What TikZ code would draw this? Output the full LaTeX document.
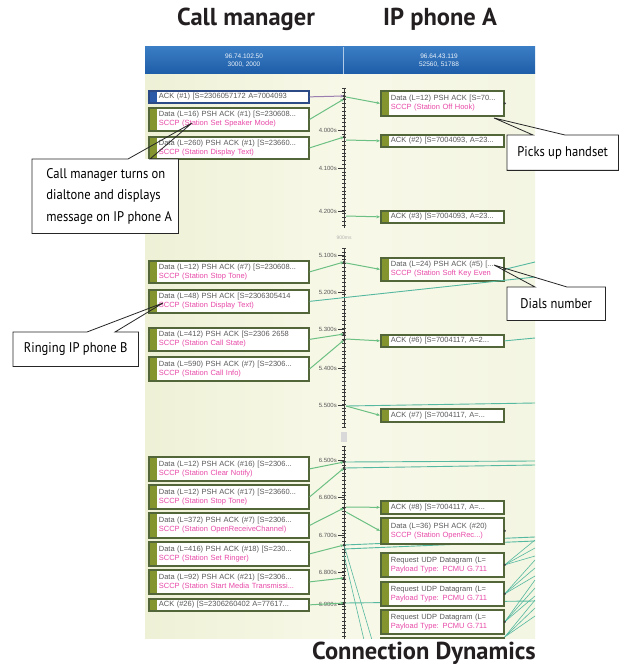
\documentclass[tikz,border=0pt]{standalone}
\usepackage{fontspec}
\setmainfont{Liberation Sans}
\newfontfamily\titlefont{PT Sans}
\newfontfamily\callfont[FakeStretch=0.9]{PT Sans}
\usetikzlibrary{arrows.meta,calc}
\definecolor{boxc}{HTML}{53663A}
\definecolor{boxin}{HTML}{A7BC82}
\definecolor{stripc}{HTML}{84942F}
\definecolor{selc}{HTML}{2B4A86}
\definecolor{selstrip}{HTML}{2B5BA8}
\definecolor{sccp}{HTML}{E84AA8}
\definecolor{boxtext}{HTML}{5A5A5A}
\definecolor{connc}{HTML}{6CC083}
\definecolor{tealc}{HTML}{55B8A0}
\definecolor{axisc}{HTML}{3A3A3A}
\definecolor{hdrtop}{HTML}{3A7DC4}
\definecolor{hdrbot}{HTML}{1E5DA8}
\definecolor{bgL}{HTML}{EEF1D6}
\definecolor{bgM}{HTML}{F8F8E8}
\definecolor{bgR}{HTML}{F3F6E2}
\definecolor{titlec}{HTML}{231F20}
\definecolor{mauve}{HTML}{9B7FB0}
\newcommand{\bxfont}{\fontsize{7.5}{9}\selectfont}
\newcommand{\twol}[2]{\hspace*{4pt}\mbox{#1}\\\hspace*{4pt}\mbox{\textcolor{sccp}{#2}}}
\newcommand{\onel}[1]{\hspace*{4pt}\mbox{#1}}
\begin{document}
\begin{tikzpicture}[x=1pt,y=-1pt,
  num/.style={path picture={\fill[stripc] (path picture bounding box.north west) rectangle ([xshift=8pt]path picture bounding box.south west);
     \node[font=\fontsize{4}{4}\selectfont, text=white, inner sep=0pt] at ([xshift=4pt]path picture bounding box.west) {#1};}},
  selnum/.style={path picture={\fill[selstrip] (path picture bounding box.north west) rectangle ([xshift=8pt]path picture bounding box.south west);
     \node[font=\fontsize{4}{4}\selectfont, text=white, inner sep=0pt] at ([xshift=4pt]path picture bounding box.west) {#1};}},
  lbox/.style={draw=boxc, line width=1.7pt, fill=white, anchor=north west, inner xsep=6pt, inner ysep=0pt,
     minimum width=160pt, text width=148pt, align=left, font=\bxfont, text=boxtext},
  rbox/.style={lbox, minimum width=123pt, text width=111pt},
  conn/.style={draw=connc, line width=1pt, -{Stealth[length=3.5pt,width=3pt]}},
  tline/.style={draw=tealc, line width=0.9pt},
  tlab/.style={anchor=east, font=\fontsize{6}{6}\selectfont, text=black!65, inner sep=1pt},
  hdr/.style={font=\fontsize{6.5}{7.5}\selectfont, text=white!90!hdrtop, align=center},
  title/.style={font=\titlefont\bfseries\fontsize{24.5}{26}\selectfont, text=titlec},
  callout/.style={fill=white, anchor=north west, font=\callfont\fontsize{14}{21.5}\selectfont, align=left, inner sep=0pt},
  cline/.style={draw=black!85, line width=0.8pt}
]
\useasboundingbox[fill=white] (0,0) rectangle (637,671);

% titles
\node[title] (t1) at (246,19) {Call manager};
\node[title] (t2) at (440,19) {IP phone A};
\node[title] (t3) at (424,653) {Connection Dynamics};

\begin{scope}
\clip (145,47) rectangle (535,638);
% background
\shade[left color=bgL, right color=bgM] (145,74) rectangle (344,638);
\shade[left color=bgM, right color=bgR] (344,74) rectangle (535,638);
% header
\shade[top color=hdrtop, bottom color=hdrbot] (145,47) rectangle (535,74);
\draw[white!60!hdrtop, line width=0.8pt] (343.5,47) -- (343.5,74);
\node[hdr] (h1) at (244,60.5) {96.74.102.50\\3000, 2000};
\node[hdr] (h2) at (439,60.5) {96.64.43.119\\52560, 51788};

% axis
\foreach \ya/\yb in {88/228, 248/428, 446/640}{
  \draw[axisc, line width=0.8pt] (344,\ya) -- (344,\yb);
  \draw[axisc, line width=3.2pt, dash pattern=on 0.7pt off 3.1pt] (344,\ya) -- (344,\yb);
}
\node[font=\fontsize{5}{5}\selectfont, text=black!30] (br1) at (344,238) {900ms};
\fill[black!15] (341,432) rectangle (347,442);

% time labels
\foreach \n/\yy/\t in {1/130/4.000s, 2/168/4.100s, 3/211/4.200s, 4/255/5.100s, 5/292/5.200s, 6/329/5.300s,
   7/368/5.400s, 8/405/5.500s, 9/460/6.500s, 10/497/6.600s, 11/535/6.700s, 12/572/6.800s, 13/604/6.900s}{
  \node[tlab] (tl\n) at (338,\yy) {\t};
  \draw[axisc, line width=0.5pt] (tl\n.east) -- (344,\yy);
}

% axis coordinates
\coordinate (a1) at (344,96);   \coordinate (a2) at (344,99);  \coordinate (a3) at (344,137);
\coordinate (a4) at (344,262);  \coordinate (a6) at (344,334);  \coordinate (a7) at (344,340);
\coordinate (a8) at (344,462);  \coordinate (a9) at (344,468);  \coordinate (a10) at (344,508);
\coordinate (a11) at (344,545); \coordinate (a12) at (344,578); \coordinate (a13) at (344,603);
\coordinate (b1) at (346,97);   \coordinate (b2) at (346,140);  \coordinate (b3) at (346,216);
\coordinate (b4) at (346,263);  \coordinate (b5) at (346,339);  \coordinate (b6) at (346,406);
\coordinate (b7) at (346,507);  \coordinate (b8) at (346,512);
\coordinate (e1) at (535,262);  \coordinate (e2) at (535,277);  \coordinate (e3) at (535,338);
\coordinate (e4) at (535,403);  \coordinate (e5) at (535,461);  \coordinate (e6) at (535,465);
\coordinate (e7) at (535,537);  \coordinate (e8) at (535,541);  \coordinate (e9) at (535,601);

% long lines first (under the boxes)
\draw[tline] (b6) -- (e4);
\draw[tline] (a8) -- (e5);
\draw[tline] (a9) -- (e6);
\draw[tline] (a11) -- (e7);
\draw[tline] ([yshift=-4pt]a11) -- (e8);
\draw[tline] (a13) -- (e9);
\draw[tline, line width=0.6pt] (a11) -- (372,640);
\draw[tline, line width=0.6pt] ([yshift=-10pt]a11) -- (364,640);

% left boxes
\node[lbox, draw=selc, selnum=1, minimum height=12pt] (L1) at (148,90) {\onel{ACK (\#1) [S=2306057172 A=7004093}};
\node[lbox, num=2, minimum height=23pt] (L2) at (148,107) {\twol{Data (L=16) PSH ACK (\#1) [S=230608...}{SCCP (Station Set Speaker Mode)}};
\node[lbox, num=3, minimum height=22pt] (L3) at (148,136) {\twol{Data (L=260) PSH ACK (\#1) [S=23660...}{SCCP (Station Display Text)}};
\node[lbox, num=4, minimum height=22pt] (L4) at (148,260) {\twol{Data (L=12) PSH ACK (\#7) [S=230608...}{SCCP (Station Stop Tone)}};
\node[lbox, num=5, minimum height=23pt] (L5) at (148,289) {\twol{Data (L=48) PSH ACK [S=2306305414}{SCCP (Station Display Text)}};
\node[lbox, num=6, minimum height=23pt] (L6) at (148,327) {\twol{Data (L=412) PSH ACK [S=2306 2658}{SCCP (Station Call State)}};
\node[lbox, num=7, minimum height=24pt] (L7) at (148,356) {\twol{Data (L=590) PSH ACK (\#7) [S=2306...}{SCCP (Station Call Info)}};
\node[lbox, num=8, minimum height=24pt] (L8) at (148,456) {\twol{Data (L=12) PSH ACK (\#16) [S=2306...}{SCCP (Station Clear Notify)}};
\node[lbox, num=9, minimum height=24pt] (L9) at (148,484) {\twol{Data (L=12) PSH ACK (\#17) [S=23660...}{SCCP (Station Stop Tone)}};
\node[lbox, num=10, minimum height=25pt] (L10) at (148,512) {\twol{Data (L=372) PSH ACK (\#7) [S=2306...}{SCCP (Station OpenReceiveChannel)}};
\node[lbox, num=11, minimum height=24pt] (L11) at (148,541) {\twol{Data (L=416) PSH ACK (\#18) [S=230...}{SCCP (Station Set Ringer)}};
\node[lbox, num=12, minimum height=24pt] (L12) at (148,569) {\twol{Data (L=92) PSH ACK (\#21) [S=2306...}{SCCP (Station Start Media Transmissi...}};
\node[lbox, num=13, minimum height=12pt] (L13) at (148,598) {\onel{ACK (\#26) [S=2306260402 A=77617...}};

% right boxes
\node[rbox, num=2, minimum height=25pt] (R1) at (380,90) {\twol{Data (L=12) PSH ACK [S=70...}{SCCP (Station Off Hook)}};
\node[rbox, num=3, minimum height=12pt] (R2) at (380,134) {\onel{ACK (\#2) [S=7004093, A=23...}};
\node[rbox, num=4, minimum height=12pt] (R3) at (380,210) {\onel{ACK (\#3) [S=7004093, A=23...}};
\node[rbox, num=5, minimum height=23pt] (R4) at (380,257) {\twol{Data (L=24) PSH ACK (\#5) [...}{SCCP (Station Soft Key Even}};
\node[rbox, num=6, minimum height=12pt] (R5) at (380,334) {\onel{ACK (\#6) [S=7004117, A=2...}};
\node[rbox, num=7, minimum height=13pt] (R6) at (380,408) {\onel{ACK (\#7) [S=7004117, A=...}};
\node[rbox, num=8, minimum height=13pt] (R7) at (380,500) {\onel{ACK (\#8) [S=7004117, A=...}};
\node[rbox, num=9, minimum height=26pt] (R8) at (380,517) {\twol{Data (L=36) PSH ACK (\#20)}{SCCP (Station OpenRec...)}};
\node[rbox, num=10, minimum height=24pt] (R9) at (380,552) {\twol{Request UDP Datagram (L=}{Payload Type: PCMU G.711}};
\node[rbox, num=11, minimum height=24pt] (R10) at (380,581) {\twol{Request UDP Datagram (L=}{Payload Type: PCMU G.711}};
\node[rbox, num=12, minimum height=24pt] (R11) at (380,609) {\twol{Request UDP Datagram (L=}{Payload Type: PCMU G.711}};
\node[rbox, num={}, minimum height=6pt] (R12) at (380,637) {};

% left connectors
\draw[conn, draw=mauve] (L1.east) -- (a1);
\draw[conn] (L2.east) -- (a2);
\draw[conn] (L3.east) -- (a3);
\draw[conn] (L4.east) -- (a4);
\draw[tline] (L5.east) -- (e2);
\draw[conn] (L6.east) -- (a6);
\draw[conn] (L7.east) -- (a7);
\draw[conn] (L8.east) -- (a8);
\draw[conn] (L9.east) -- (a9);
\draw[conn] (L10.east) -- (a10);
\draw[conn] (L11.east) -- (a11);
\draw[conn] (L12.east) -- (a12);
\draw[conn] (L13.east) -- (a13);

% right connectors
\draw[conn] (b1) -- (R1.west);
\draw[conn] (b2) -- (R2.west);
\draw[conn] (b3) -- (R3.west);
\draw[conn] (b4) -- (R4.west);
\draw[conn] (b5) -- (R5.west);
\draw[conn] (b6) -- (R6.west);
\draw[conn] (b7) -- (R7.west);
\draw[conn] (b8) -- (R8.west);

% lines to the right edge
\draw[tline] (R4.east) -- (e1);
\draw[tline] (R5.east) -- (e3);
\foreach \s in {0,8,16}{
  \draw[tline, line width=0.6pt] (R9.east) -- ($(e9)+(0,-45-\s)$);
  \draw[tline, line width=0.6pt] (R10.east) -- ($(e9)+(0,-25-\s)$);
  \draw[tline, line width=0.6pt] (R11.east) -- ($(e9)+(0,-5-\s)$);
  \draw[tline, line width=0.6pt] (R12.north east) -- ($(e9)+(0,15-\s)$);
}

% event markers on the axis
\foreach \c in {a1,a2,a3,a4,a6,a7,a8,a9,a10,a11,a12,a13}{\fill[axisc] (\c) circle (1.5pt);}
\foreach \c in {R1,R4,R8,R9,R10,R11}{\fill[axisc] (\c.east) circle (1.3pt);}
\end{scope}

% callouts
\node[callout, minimum width=146pt, minimum height=74pt] (c1) at (32,159) {\hspace*{8pt}Call manager turns on\\\hspace*{8pt}dialtone and displays\\\hspace*{8pt}message on IP phone A};
\draw[cline] ($(c1.north west)+(96,0)$) -- (192,123) -- ($(c1.north west)+(118,0)$) -- (c1.north east) -- (c1.south east) -- (c1.south west) -- (c1.north west) -- cycle;

\node[callout, minimum width=125pt, minimum height=34pt, align=center] (c2) at (13,332) {Ringing IP phone B};
\draw[cline] ($(c2.north west)+(74,0)$) -- (163,303) -- ($(c2.north west)+(102,0)$) -- (c2.north east) -- (c2.south east) -- (c2.south west) -- (c2.north west) -- cycle;

\node[callout, minimum width=111pt, minimum height=35pt, align=center] (c3) at (507,135) {Picks up handset};
\draw[cline] ($(c3.north west)+(26,0)$) -- (494,118) -- ($(c3.north west)+(58,0)$) -- (c3.north east) -- (c3.south east) -- (c3.south west) -- (c3.north west) -- cycle;

\node[callout, minimum width=98pt, minimum height=33pt, align=center] (c4) at (507,287) {Dials number};
\draw[cline] ($(c4.north west)+(28,0)$) -- (494,265) -- ($(c4.north west)+(60,0)$) -- (c4.north east) -- (c4.south east) -- (c4.south west) -- (c4.north west) -- cycle;
\end{tikzpicture}
\end{document}
